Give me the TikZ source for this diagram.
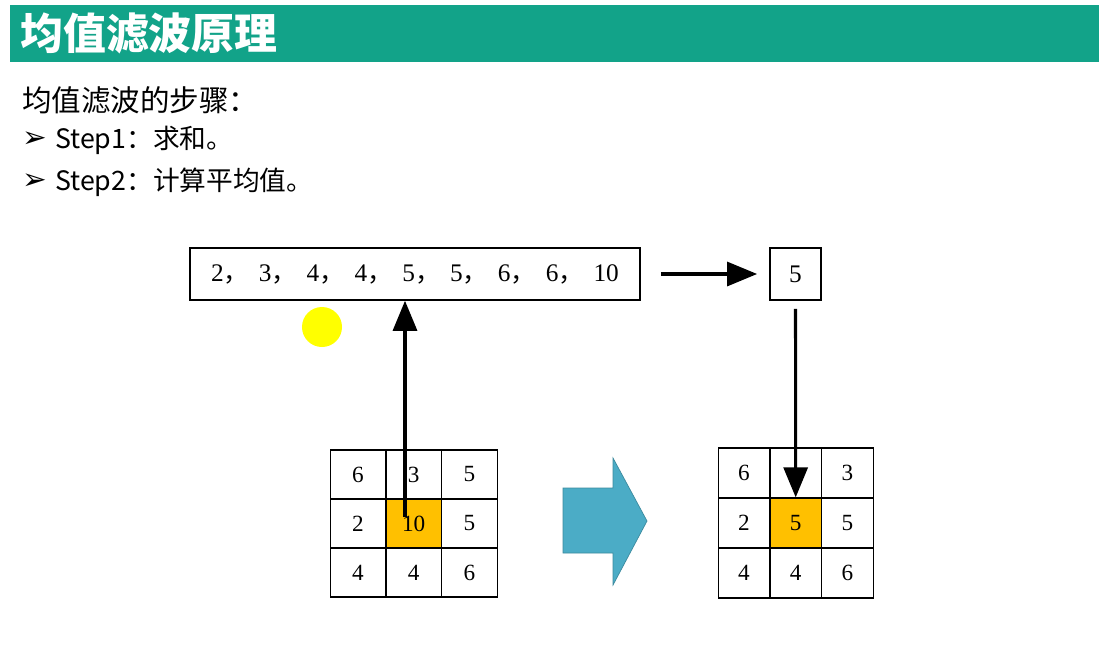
\documentclass[tikz,border=0pt]{standalone}
\usepackage{fontspec}
\setmainfont{Liberation Serif}
\newfontfamily\cjk{Noto Sans CJK SC}
\newfontfamily\sym{DejaVu Sans}
\usepackage{xcolor}
\definecolor{cTitle}{HTML}{12A389}
\definecolor{cBlock}{HTML}{4BACC6}
\definecolor{cHot}{HTML}{FFC000}
\definecolor{cMark}{HTML}{FFFF00}
\usetikzlibrary{positioning,arrows.meta,calc}
\newcommand\seqsep{{\cjk ，}\hspace{7pt}}
\tikzset{
  cell-l/.style={draw,line width=0.9pt,minimum width=1.39cm,minimum height=1.225cm,
    inner sep=0pt,font=\fontsize{16.5pt}{18pt}\selectfont},
  cell-l-hot/.style={cell-l,fill=cHot},
  cell-r/.style={draw,line width=0.9pt,minimum width=1.29cm,minimum height=1.25cm,
    inner sep=0pt,font=\fontsize{16.5pt}{18pt}\selectfont},
  cell-r-hot/.style={cell-r,fill=cHot},
  node-box/.style={draw,line width=1.1pt,inner sep=0pt,font=\fontsize{18pt}{20pt}\selectfont},
  text-line/.style={anchor=west,inner sep=0pt,font=\cjk\fontsize{19pt}{22pt}\selectfont},
  bullet/.style={inner sep=0pt,font=\sym\fontsize{21pt}{22pt}\selectfont},
  arrow/.style={-{Triangle[length=7.5mm,width=6mm]},line width=2.2pt},
}
\begin{document}
\begin{tikzpicture}[x=0.025cm,y=-0.025cm]
  \useasboundingbox[fill=white] (0,0) rectangle (1099,653);
  % title band
  \fill[cTitle] (10,5) rectangle (1099,62);
  \node[anchor=west,inner sep=0pt,text=white,font=\cjk\bfseries\fontsize{30.5pt}{32pt}\selectfont]
    (title) at (20,33) {均值滤波原理};
  % steps
  \node[text-line,font=\cjk\fontsize{21pt}{24pt}\selectfont] (head) at (22,100) {均值滤波的步骤：};
  \node[bullet] (b1) at (35,140) {➢};
  \node[text-line] (step1) at (55,140) {Step1：求和。};
  \node[bullet] (b2) at (35,182) {➢};
  \node[text-line] (step2) at (55,182) {Step2：计算平均值。};
  % sorted values and result
  \node[node-box,minimum width=11.25cm,minimum height=1.3cm] (seq) at (415,274)
    {2\seqsep 3\seqsep 4\seqsep 4\seqsep 5\seqsep 5\seqsep 6\seqsep 6\seqsep 10};
  \node[node-box,minimum width=1.28cm,minimum height=1.3cm] (res) at (795.5,274) {5};
  \node[circle,fill=cMark,minimum size=1cm,inner sep=0pt] (spot) at (322,327) {};
  % left window
  \foreach \v/\s [count=\k from 0] in {6/cell-l,3/cell-l,5/cell-l,2/cell-l,10/cell-l-hot,
      5/cell-l,4/cell-l,4/cell-l,6/cell-l} {
    \pgfmathtruncatemacro\r{\k/3}
    \pgfmathtruncatemacro\c{mod(\k,3)}
    \node[\s] (L-\r-\c) at (358+\c*55.7,474.5+\r*49) {\v};
  }
  % right window
  \foreach \v/\s [count=\k from 0] in {6/cell-r,{}/cell-r,3/cell-r,2/cell-r,5/cell-r-hot,
      5/cell-r,4/cell-r,4/cell-r,6/cell-r} {
    \pgfmathtruncatemacro\r{\k/3}
    \pgfmathtruncatemacro\c{mod(\k,3)}
    \node[\s] (R-\r-\c) at (744+\c*51.7,473+\r*50) {\v};
  }
  % block arrow
  \filldraw[fill=cBlock,draw=cBlock!80!black,line width=0.5pt]
    (563,488) -- (613,488) -- (613,458) -- (647,521) -- (613,585) -- (613,553)
    -- (563,553) -- cycle;
  % arrows
  \coordinate (up-start) at (405,517);
  \draw[arrow] (up-start) -- (up-start |- seq.south);
  \draw[arrow,shorten <=0.5cm,shorten >=0.3cm] (seq.east) -- (res.west);
  \draw[arrow,shorten <=0.2cm] (res.south) -- (R-1-1.north);
\end{tikzpicture}
\end{document}
